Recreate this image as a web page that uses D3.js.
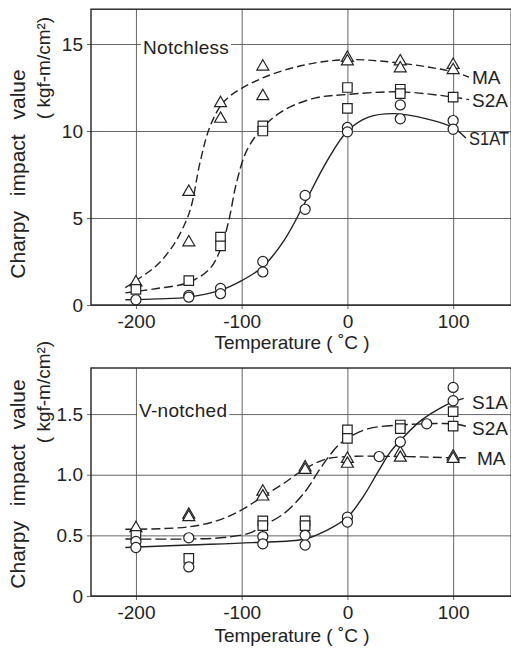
<!DOCTYPE html>
<html>
<head>
<meta charset="utf-8">
<script src="https://cdn.jsdelivr.net/npm/d3@7"></script>
<style>
body { margin: 0; background: #fff; overflow: hidden; }
svg { display: block; font-family: "Liberation Sans", Arial, sans-serif; }
.grid line { stroke: #555; stroke-width: 0.9; }
.grid text { fill: #222; font-size: 19px; }
.curve { fill: none; stroke: #222; stroke-width: 1.4; }
.mark { fill: #fff; stroke: #222; stroke-width: 1.2; }
</style>
</head>
<body>
<svg id="chart" width="511" height="648"></svg>
<script>
"use strict";

//Temperature ticks shared by both panels
var tempTicks = [-200, -100, 0, 100];
var tempDomain = [-242.5, 155];

//Notchless panel ticks
var topTicks = [0, 5, 10, 15];
var topDomain = [0, 17];

//V-notched panel ticks
var bottomTicks = [0, 0.5, 1.0, 1.5];
var bottomDomain = [0, 1.88];

//Notchless measured points [temperature, value]
var notchlessMApts = [[-200,1.3],[-150,6.5],[-150,3.6],[-120,11.6],[-120,10.7],[-80,13.7],[-80,12.0],[0,14.2],[0,14.0],[50,14.0],[50,13.6],[100,13.8],[100,13.5]];
var notchlessS2Apts = [[-200,0.9],[-150,1.4],[-120,3.9],[-120,3.4],[-80,10.3],[-80,10.0],[0,12.5],[0,11.3],[50,12.4],[50,12.15],[100,11.95]];
var notchlessS1Apts = [[-200,0.3],[-150,0.55],[-150,0.45],[-120,0.95],[-120,0.65],[-80,2.5],[-80,1.9],[-40,6.3],[-40,5.5],[0,10.2],[0,9.95],[50,11.5],[50,10.7],[100,10.6],[100,10.1]];

//Notchless fitted curves
var notchlessMAcurve = [[-210,1.0],[-200,1.4],[-180,2.3],[-165,3.4],[-155,4.5],[-148,5.6],[-139,8.3],[-129,10.4],[-115,11.8],[-82,13.0],[-40,13.8],[0,14.1],[50,13.9],[100,13.4],[115,13.1]];
var notchlessS2Acurve = [[-210,0.7],[-180,0.95],[-150,1.3],[-130,2.1],[-120,3.2],[-112,4.9],[-105,7.0],[-95,8.9],[-80,10.2],[-60,11.2],[-30,11.9],[0,12.1],[50,12.25],[100,11.95],[115,11.8]];
var notchlessS1Acurve = [[-210,0.3],[-180,0.35],[-150,0.45],[-120,0.85],[-100,1.4],[-80,2.2],[-60,3.7],[-40,5.9],[-20,8.2],[0,10.0],[20,10.8],[45,11.0],[75,10.7],[100,10.2],[112,9.6]];

//V-notched measured points
var vnotchMApts = [[-200,0.56],[-150,0.67],[-150,0.65],[-80,0.86],[-80,0.82],[-40,1.06],[-40,1.04],[0,1.13],[0,1.09],[50,1.18],[50,1.14],[100,1.15],[100,1.13]];
var vnotchS2Apts = [[-200,0.5],[-150,0.31],[-80,0.62],[-80,0.58],[-40,0.62],[-40,0.58],[0,1.37],[0,1.30],[50,1.41],[50,1.38],[100,1.52],[100,1.40]];
var vnotchS1Apts = [[-200,0.45],[-200,0.40],[-150,0.48],[-150,0.24],[-80,0.49],[-80,0.43],[-40,0.5],[-40,0.42],[0,0.65],[0,0.61],[30,1.15],[50,1.27],[75,1.42],[100,1.72],[100,1.61]];

//V-notched fitted curves
var vnotchMAcurve = [[-210,0.55],[-150,0.57],[-120,0.63],[-100,0.71],[-80,0.82],[-60,0.93],[-40,1.05],[-20,1.13],[0,1.15],[50,1.15],[100,1.14],[112,1.14]];
var vnotchS2Acurve = [[-210,0.47],[-150,0.47],[-120,0.48],[-92,0.52],[-80,0.58],[-60,0.68],[-40,0.86],[-25,1.06],[-10,1.23],[0,1.30],[20,1.38],[50,1.41],[75,1.42],[100,1.42],[112,1.40]];
var vnotchS1Acurve = [[-210,0.40],[-150,0.42],[-90,0.44],[-40,0.47],[-20,0.54],[0,0.65],[15,0.82],[30,1.04],[40,1.18],[52,1.30],[70,1.45],[90,1.56],[100,1.6],[110,1.63]];

var svg = d3.select("#chart");

//Same temperature scale for both panels
var x = d3.scaleLinear().domain(tempDomain).range([91, 511.3]);

drawPanel({
  top: 9.2, bottom: 305, domain: topDomain, ticks: topTicks,
  fmt: function(d) { return String(d); },
  title: "Notchless", titleX: 143, titleY: 47,
  series: [
    {name: "MA", pts: notchlessMApts, curve: notchlessMAcurve, shape: d3.symbolTriangle, dash: "8,4", labelY: 77},
    {name: "S2A", pts: notchlessS2Apts, curve: notchlessS2Acurve, shape: d3.symbolSquare, dash: "9,4", labelY: 100},
    {name: "S1AT", pts: notchlessS1Apts, curve: notchlessS1Acurve, shape: d3.symbolCircle, dash: null, labelY: 138, labelX: 469, squeeze: 40}
  ],
  ylabelY: 174, unitY: 68, xlabelY: 342
});

drawPanel({
  top: 368, bottom: 596, domain: bottomDomain, ticks: bottomTicks,
  fmt: function(d) { return d === 0 ? "0" : d3.format(".1f")(d); },
  title: "V-notched", titleX: 139, titleY: 410,
  series: [
    {name: "MA", pts: vnotchMApts, curve: vnotchMAcurve, shape: d3.symbolTriangle, dash: "9,4", labelY: 458, labelX: 477},
    {name: "S2A", pts: vnotchS2Apts, curve: vnotchS2Acurve, shape: d3.symbolSquare, dash: "11,4", labelY: 428},
    {name: "S1A", pts: vnotchS1Apts, curve: vnotchS1Acurve, shape: d3.symbolCircle, dash: null, labelY: 402}
  ],
  ylabelY: 484, unitY: 392, xlabelY: 635
});

function drawPanel(p) {
  var y = d3.scaleLinear().domain(p.domain).range([p.bottom, p.top]);
  var left = x.range()[0], right = x.range()[1];
  var g = svg.append("g");

  //Horizontal grid + y tick labels
  g.append("g")
    .attr("class", "grid")
    .attr("transform", "translate(" + (left - 4) + ",0)")
    .call(d3.axisLeft(y).tickValues(p.ticks).tickFormat(p.fmt)
      .tickSizeInner(-(right - left + 4)).tickSizeOuter(0).tickPadding(4))
    .call(function(a) { a.select(".domain").remove(); });

  //Vertical grid + temperature labels
  g.append("g")
    .attr("class", "grid")
    .attr("transform", "translate(0," + (p.bottom + 4) + ")")
    .call(d3.axisBottom(x).tickValues(tempTicks).tickFormat(function(d) { return String(d); })
      .tickSizeInner(-(p.bottom - p.top + 4)).tickSizeOuter(0).tickPadding(6))
    .call(function(a) { a.select(".domain").remove(); });

  g.selectAll(".grid text").attr("font-family", null).attr("font-size", null);

  //Frame
  g.append("rect")
    .attr("x", left).attr("y", p.top)
    .attr("width", right - left).attr("height", p.bottom - p.top)
    .attr("fill", "none").attr("stroke", "#222").attr("stroke-width", 1.4);

  //Panel title with a white patch over the grid
  var t = g.append("text")
    .attr("x", p.titleX).attr("y", p.titleY)
    .attr("dy", "0.35em")
    .attr("font-size", 19).attr("fill", "#222")
    .attr("letter-spacing", 0.3)
    .text(p.title);
  var bb = t.node().getBBox();
  g.insert("rect", function() { return t.node(); })
    .attr("x", bb.x - 2).attr("y", bb.y + 2)
    .attr("width", bb.width + 4).attr("height", bb.height - 4)
    .attr("fill", "#fff");

  var line = d3.line()
    .curve(d3.curveCatmullRom.alpha(0.5))
    .x(function(d) { return x(d[0]); })
    .y(function(d) { return y(d[1]); });

  p.series.forEach(function(s) {
    g.append("path")
      .attr("class", "curve")
      .attr("stroke-dasharray", s.dash)
      .attr("d", line(s.curve));

    var lab = g.append("text")
      .attr("x", s.labelX || 472).attr("y", s.labelY)
      .attr("dy", "0.35em")
      .attr("font-size", 19).attr("fill", "#222")
      .text(s.name);
    if (s.squeeze) lab.attr("textLength", s.squeeze).attr("lengthAdjust", "spacingAndGlyphs");
  });

  p.series.forEach(function(s) {
    var size = s.shape === d3.symbolTriangle ? 62 : (s.shape === d3.symbolSquare ? 90 : 80);
    g.selectAll(null)
      .data(s.pts)
      .enter().append("path")
      .attr("class", "mark")
      .attr("transform", function(d) { return "translate(" + x(d[0]) + "," + y(d[1]) + ")"; })
      .attr("d", d3.symbol().type(s.shape).size(size));
  });

  //Axis titles
  g.append("text")
    .attr("x", 292).attr("y", p.xlabelY)
    .attr("dy", "0.35em")
    .attr("text-anchor", "middle")
    .attr("font-size", 19).attr("fill", "#222")
    .text("Temperature ( \u02DAC )");

  g.append("text")
    .attr("transform", "translate(18," + p.ylabelY + ") rotate(-90)")
    .attr("dy", "0.35em")
    .attr("text-anchor", "middle")
    .attr("font-size", 21).attr("fill", "#222")
    .attr("word-spacing", 9)
    .text("Charpy impact value");

  g.append("text")
    .attr("transform", "translate(43," + p.unitY + ") rotate(-90)")
    .attr("dy", "0.35em")
    .attr("text-anchor", "middle")
    .attr("font-size", 19).attr("fill", "#222")
    .text("( kgf-m/cm\u00B2)");
}
</script>
</body>
</html>
